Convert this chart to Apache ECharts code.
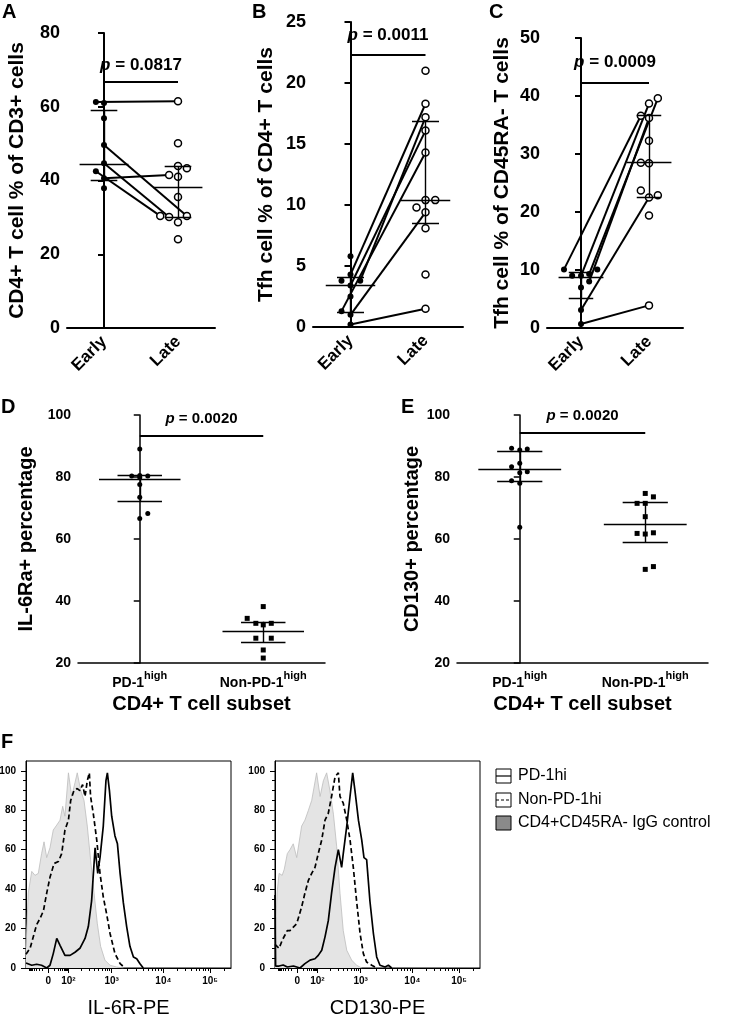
<!DOCTYPE html>
<html><head><meta charset="utf-8">
<script src="https://cdn.jsdelivr.net/npm/echarts@6/dist/echarts.min.js"></script>
<style>html,body{margin:0;padding:0;background:#fff}#c{width:750px;height:1017px}</style>
</head><body><div id="c"></div>
<script>
// ---------------- DATA ----------------
const timeCats = ['Early', 'Late'];
const subsetCats = ['PD-1', 'Non-PD-1'];
const subsetSup = 'high';

// Panel A : CD4+ T cell % of CD3+ cells
const A_title = 'CD4+ T cell % of CD3+ cells';
const A_yAxis = [0, 80, 20];
const A_early = [61.3, 61.0, 56.9, 49.6, 44.7, 42.5, 40.6, 37.9];
const A_earlyJit = [-0.11, 0, 0, 0, 0, -0.11, 0, 0];
const A_late = [61.5, 50.1, 43.9, 43.3, 41.0, 41.5, 35.5, 30.4, 30.1, 30.4, 28.7, 24.1];
const A_lateJit = [0, 0, 0, 0.12, 0, -0.12, 0, -0.24, -0.12, 0.12, 0, 0];
const A_pairs = [[0, 0], [3, 9], [4, 8], [5, 7], [6, 5]];
const A_earlyStats = [40.0, 44.5, 59.0];
const A_lateStats = [30.1, 38.3, 43.9];
const A_pBar = 66.7;
const A_pValue = '0.0817';

// Panel B : Tfh cell % of CD4+ T cells
const B_title = 'Tfh cell % of CD4+ T cells';
const B_yAxis = [0, 25, 5];
const B_early = [5.8, 4.3, 3.8, 3.8, 3.4, 2.5, 1.3, 1.0, 0.2];
const B_earlyJit = [0, 0, -0.12, 0.13, 0, 0, -0.12, 0, 0];
const B_late = [21.0, 18.3, 17.2, 16.1, 14.3, 9.8, 10.4, 10.4, 9.4, 8.1, 4.3, 1.5];
const B_lateJit = [0, 0, 0, 0, 0, -0.12, 0, 0.13, 0, 0, 0, 0];
const B_pairs = [[1, 1], [3, 2], [4, 3], [6, 4], [7, 8], [8, 11]];
const B_earlyStats = [1.2, 3.4, 4.1];
const B_lateStats = [8.5, 10.4, 16.9];
const B_pBar = 22.3;
const B_pValue = '0.0011';

// Panel C : Tfh cell % of CD45RA- T cells
const C_title = 'Tfh cell % of CD45RA- T cells';
const C_yAxis = [0, 50, 10];
const C_early = [10.1, 10.1, 9.0, 9.0, 9.3, 8.0, 7.0, 3.1, 0.7];
const C_earlyJit = [-0.25, 0.24, -0.13, 0, 0.12, 0.12, 0, 0, 0];
const C_late = [39.6, 38.7, 36.6, 36.2, 32.3, 28.5, 28.4, 23.7, 22.9, 22.5, 19.4, 3.9];
const C_lateJit = [0.13, 0, -0.12, 0, 0, -0.12, 0, -0.12, 0.13, 0, 0, 0];
const C_pairs = [[0, 2], [3, 1], [4, 0], [5, 3], [7, 9], [8, 11]];
const C_earlyStats = [5.2, 8.8, 9.6];
const C_lateStats = [22.6, 28.5, 36.6];
const C_pBar = 42.3;
const C_pValue = '0.0009';

// Panel D : IL-6Ra+ percentage
const D_title = 'IL-6Ra+ percentage';
const D_yAxis = [20, 100, 20];
const D_pd = [89.0, 80.3, 80.5, 80.3, 79.8, 77.6, 73.5, 68.2, 66.6];
const D_pdJit = [0, -0.065, 0, 0.065, 0, 0, 0, 0.065, 0];
const D_non = [38.2, 34.4, 32.8, 32.3, 32.8, 28.0, 28.0, 24.2, 21.6];
const D_nonJit = [0, -0.13, -0.06, 0, 0.065, -0.06, 0.065, 0, 0];
const D_pdStats = [72.2, 79.3, 80.6];
const D_nonStats = [26.8, 30.1, 33.3];
const D_pBar = 93.2;
const D_pValue = '0.0020';

// Panel E : CD130+ percentage
const E_title = 'CD130+ percentage';
const E_yAxis = [20, 100, 20];
const E_pd = [89.3, 88.7, 89.0, 84.4, 83.3, 81.7, 81.4, 78.8, 78.0, 63.8];
const E_pdJit = [-0.065, 0, 0.06, 0, -0.065, 0.06, 0, -0.065, 0, 0];
const E_non = [74.7, 73.6, 71.5, 71.5, 67.2, 61.8, 61.6, 62.0, 50.2, 51.1];
const E_nonJit = [0, 0.065, -0.065, 0, 0, -0.065, 0, 0.065, 0, 0.065];
const E_pdStats = [78.5, 82.4, 88.4];
const E_nonStats = [58.9, 64.6, 72.0];
const E_pBar = 94.4;
const E_pValue = '0.0020';
const subsetTitle = 'CD4+ T cell subset';

// Panel F : histograms (x in display channels 0-1000, y = % of max)
const F_xTickPos = [109, 207, 418, 670, 898];
const F_xTickLabels = ['0', '10²', '10³', '10⁴', '10⁵'];
const F_yTicks = [0, 20, 40, 60, 80, 100];
const F_names = ['PD-1hi', 'Non-PD-1hi', 'CD4+CD45RA- IgG control'];

const F1_title = 'IL-6R-PE';
const F1_greyX = [0, 11, 28, 44, 60, 76, 88, 101, 117, 133, 150, 166, 179, 190, 207, 223, 239, 250, 267, 283, 299, 315, 332, 348, 364, 385, 410, 442, 475];
const F1_greyY = [10, 38, 49, 47, 48, 58, 64, 56, 61, 70, 72.5, 75, 82, 77, 99, 87, 94, 99, 90, 85, 72, 55, 38, 22.5, 11, 4, 1.4, 0.5, 0];
const F1_dashX = [0, 20, 36, 52, 68, 85, 101, 117, 137, 158, 174, 190, 207, 218, 234, 250, 263, 276, 288, 299, 309, 315, 328, 345, 361, 377, 393, 410, 434, 459, 483];
const F1_dashY = [7, 10, 16, 22, 25, 29, 38, 46, 53, 54, 58, 70, 75, 85, 90, 91, 90, 93, 87, 95, 99, 87, 78.5, 65, 48, 36, 27.6, 17.5, 7.3, 2.2, 0];
const F1_solidX = [0, 28, 52, 76, 101, 117, 133, 150, 166, 190, 215, 239, 263, 288, 304, 320, 337, 350, 361, 377, 390, 397, 407, 418, 434, 446, 459, 475, 491, 507, 524, 540, 556, 572];
const F1_solidY = [2.5, 1.4, 1.9, 1.4, 0, 1.4, 7.3, 15, 11.5, 6.4, 6.4, 8, 10, 15, 21, 34, 61, 48, 56, 72, 95, 99, 90, 77, 67, 63, 48, 33, 21, 11, 5.6, 4.7, 2.2, 0];

const F2_title = 'CD130-PE';
const F2_greyX = [0, 10, 20, 35, 45, 60, 73, 89, 106, 130, 146, 163, 179, 203, 220, 236, 252, 268, 285, 301, 317, 333, 350, 374, 398, 423];
const F2_greyY = [12, 38, 48, 47, 50, 58, 60, 63, 56, 72, 75, 80, 85, 99, 87, 95, 99, 90, 78, 61.5, 38, 19, 9, 4, 1.4, 0];
const F2_dashX = [0, 10, 20, 35, 50, 60, 73, 106, 130, 146, 163, 179, 195, 211, 228, 244, 260, 276, 293, 309, 317, 333, 350, 366, 382, 398, 415, 431, 447, 472, 496];
const F2_dashY = [12, 11, 10, 14, 17, 19, 19, 22.5, 31, 38, 44.5, 48, 51, 58, 65, 75, 78.5, 87, 97, 99, 87, 83.6, 75, 65, 51, 34, 17.5, 7.3, 3, 1.4, 0];
const F2_solidX = [0, 3, 20, 40, 60, 90, 122, 146, 171, 195, 211, 228, 244, 260, 276, 293, 309, 325, 333, 350, 366, 379, 390, 407, 423, 434, 447, 463, 480, 496, 512, 537, 553, 569];
const F2_solidY = [37, 1, 1, 1.5, 0.5, 1, 0, 2.2, 4, 4.7, 6.4, 9, 15.8, 24, 38, 51, 60, 51, 58, 72, 87, 99, 90, 75, 65, 56, 55, 34, 17.5, 5.6, 1.4, 0.5, 1.4, 0];

// ---------------- BUILD ----------------
const FONT = "'Liberation Sans', Arial, Helvetica, sans-serif";
const chart = echarts.init(document.getElementById('c'), null, {renderer: 'canvas'});

const grids = [
  {left: 67, top: 33, width: 148, height: 295},
  {left: 313, top: 22, width: 150, height: 305},
  {left: 547, top: 38, width: 136, height: 290},
  {left: 78, top: 415, width: 247, height: 248},
  {left: 457, top: 415, width: 251, height: 248},
  {left: 26, top: 761, width: 205, height: 207, show: true, borderColor: '#000', borderWidth: 1},
  {left: 275, top: 761, width: 205, height: 207, show: true, borderColor: '#000', borderWidth: 1}
].map(g => Object.assign({containLabel: false, outerBoundsMode: 'none'}, g));

const panels = [
  {cats: timeCats, y: A_yAxis, title: A_title, g1: A_early, j1: A_earlyJit, g2: A_late, j2: A_lateJit, pairs: A_pairs, s1: A_earlyStats, s2: A_lateStats, pBar: A_pBar, pVal: A_pValue, kind: 'time', nameGap: 39},
  {cats: timeCats, y: B_yAxis, title: B_title, g1: B_early, j1: B_earlyJit, g2: B_late, j2: B_lateJit, pairs: B_pairs, s1: B_earlyStats, s2: B_lateStats, pBar: B_pBar, pVal: B_pValue, kind: 'time', nameGap: 36},
  {cats: timeCats, y: C_yAxis, title: C_title, g1: C_early, j1: C_earlyJit, g2: C_late, j2: C_lateJit, pairs: C_pairs, s1: C_earlyStats, s2: C_lateStats, pBar: C_pBar, pVal: C_pValue, kind: 'time', nameGap: 34},
  {cats: subsetCats, y: D_yAxis, title: D_title, g1: D_pd, j1: D_pdJit, g2: D_non, j2: D_nonJit, pairs: null, s1: D_pdStats, s2: D_nonStats, pBar: D_pBar, pVal: D_pValue, kind: 'subset', nameGap: 42, xName: subsetTitle},
  {cats: subsetCats, y: E_yAxis, title: E_title, g1: E_pd, j1: E_pdJit, g2: E_non, j2: E_nonJit, pairs: null, s1: E_pdStats, s2: E_nonStats, pBar: E_pBar, pVal: E_pValue, kind: 'subset', nameGap: 34, xName: subsetTitle}
];

const xAxes = [], yAxes = [], series = [];

function pts(vals, jit, cat) { return vals.map((v, i) => [cat + (jit[i] || 0), v]); }
function statSegs(st, cat, mh, ch) {
  const [q1, med, q3] = st;
  return [
    {coords: [[cat - mh, med], [cat + mh, med]]},
    {coords: [[cat - ch, q1], [cat + ch, q1]]},
    {coords: [[cat - ch, q3], [cat + ch, q3]]},
    {coords: [[cat, q1], [cat, q3]]}
  ];
}

panels.forEach((p, gi) => {
  const time = p.kind === 'time';
  const lw = time ? 2 : 1.5;
  xAxes.push({
    type: 'category', gridIndex: gi, data: p.cats, boundaryGap: true,
    axisLine: {lineStyle: {color: '#000', width: lw}},
    axisTick: {alignWithLabel: true, length: 6, lineStyle: {color: '#000', width: lw}},
    axisLabel: time ? {interval: 0, rotate: 45, fontSize: 17, fontWeight: 'bold', color: '#000', fontFamily: FONT, margin: 11}
      : {interval: 0, hideOverlap: false, color: '#000', margin: 7, fontFamily: FONT,
         formatter: v => '{b|' + v + '}{s|' + subsetSup + '}',
         rich: {b: {fontSize: 14, fontWeight: 'bold', fontFamily: FONT, color: '#000', lineHeight: 20, verticalAlign: 'bottom'},
                s: {fontSize: 11, fontWeight: 'bold', fontFamily: FONT, color: '#000', lineHeight: 12, verticalAlign: 'top'}}},
    splitLine: {show: false},
    name: p.xName || '', nameLocation: 'middle', nameGap: 31,
    nameTextStyle: {fontSize: 20, fontWeight: 'bold', color: '#000', fontFamily: FONT}
  });
  const vx = xAxes.length;
  xAxes.push({type: 'value', gridIndex: gi, min: -0.5, max: 1.5, show: false});
  const yi = yAxes.length;
  yAxes.push({
    type: 'value', gridIndex: gi, min: p.y[0], max: p.y[1], interval: p.y[2],
    axisLine: {show: true, lineStyle: {color: '#000', width: lw}},
    axisTick: {show: true, length: 6, lineStyle: {color: '#000', width: lw}},
    axisLabel: {fontSize: time ? 18 : 14, fontWeight: 'bold', color: '#000', fontFamily: FONT, margin: 7},
    splitLine: {show: false},
    name: p.title, nameLocation: 'middle', nameGap: p.nameGap,
    nameTextStyle: {fontSize: time ? 21 : 20, fontWeight: 'bold', color: '#000', fontFamily: FONT}
  });
  const e = pts(p.g1, p.j1, 0), l = pts(p.g2, p.j2, 1);
  const base = {xAxisIndex: vx, yAxisIndex: yi, silent: true};
  if (p.pairs) {
    series.push(Object.assign({type: 'lines', coordinateSystem: 'cartesian2d', z: 2, polyline: false,
      lineStyle: {color: '#000', width: 2, opacity: 1, curveness: 0},
      data: p.pairs.map(([a, b]) => ({coords: [e[a], l[b]]}))}, base));
  }
  series.push(Object.assign({type: 'scatter', z: 3, symbol: 'circle', symbolSize: time ? 6 : 5,
    itemStyle: {color: '#000', opacity: 1}, data: e}, base));
  series.push(Object.assign({type: 'scatter', z: 3, symbol: time ? 'circle' : 'rect', symbolSize: time ? 7 : 5,
    itemStyle: time ? {color: '#fff', borderColor: '#000', borderWidth: 1.5, opacity: 1} : {color: '#000', opacity: 1},
    data: l}, base));
  series.push(Object.assign({type: 'lines', coordinateSystem: 'cartesian2d', z: 4, polyline: false,
    lineStyle: {color: '#000', width: 1.4, opacity: 1, curveness: 0},
    data: statSegs(p.s1, 0, 0.33, 0.18).concat(statSegs(p.s2, 1, 0.33, 0.18))}, base));
  series.push(Object.assign({type: 'lines', coordinateSystem: 'cartesian2d', z: 4, polyline: false,
    lineStyle: {color: '#000', width: 2, opacity: 1, curveness: 0},
    data: [{coords: [[0, p.pBar], [1, p.pBar]]}]}, base));
  const fs = time ? 17 : 15;
  series.push(Object.assign({type: 'scatter', z: 5, symbolSize: 1, itemStyle: {color: 'rgba(255,255,255,0)', opacity: 1},
    data: [[0.5, p.pBar]],
    label: {show: true, position: 'top', distance: time ? (gi === 0 ? 8 : 11) : 9, color: '#000', opacity: 1,
      textBorderWidth: 0,
      formatter: () => '{i|p}{b| = ' + p.pVal + '}',
      rich: {i: {fontSize: fs, fontWeight: 'bold', fontStyle: 'italic', fontFamily: FONT, color: '#000'},
             b: {fontSize: fs, fontWeight: 'bold', fontFamily: FONT, color: '#000'}}}}, base));
});

// Histogram panels
function minorX() {
  const P = F_xTickPos, out = [];
  for (let k = 2; k <= 9; k++) {
    const f = Math.log10(k);
    out.push(P[0] - f * (P[1] - P[0]));
    out.push(P[0] + f * (P[1] - P[0]));
    for (let i = 1; i < P.length - 1; i++) out.push(P[i] + f * (P[i + 1] - P[i]));
    const t = P[4] + f * (P[4] - P[3]);
    if (t < 1000) out.push(t);
  }
  return out.filter(v => v > 0 && v < 1000);
}
const minorY = [];
for (let v = 5; v < 105; v += 5) if (v % 20 !== 0) minorY.push(v);

const histDefs = [
  {gi: 5, title: F1_title, grey: [F1_greyX, F1_greyY], dash: [F1_dashX, F1_dashY], solid: [F1_solidX, F1_solidY]},
  {gi: 6, title: F2_title, grey: [F2_greyX, F2_greyY], dash: [F2_dashX, F2_dashY], solid: [F2_solidX, F2_solidY]}
];
const zip = (a) => a[0].map((x, i) => [x, a[1][i]]);
histDefs.forEach(h => {
  const xi = xAxes.length;
  xAxes.push({type: 'value', gridIndex: h.gi, min: 0, max: 1000, position: 'bottom',
    axisLine: {show: true, lineStyle: {color: '#000', width: 1}},
    axisTick: {show: true, length: 5, customValues: F_xTickPos, lineStyle: {color: '#000', width: 1}},
    axisLabel: {customValues: F_xTickPos, fontSize: 10, fontWeight: 'bold', color: '#000', fontFamily: FONT, margin: 8,
      formatter: v => { const i = F_xTickPos.indexOf(v); return i >= 0 ? F_xTickLabels[i] : ''; }},
    splitLine: {show: false},
    name: h.title, nameLocation: 'middle', nameGap: 30,
    nameTextStyle: {fontSize: 20, color: '#000', fontFamily: FONT}});
  xAxes.push({type: 'value', gridIndex: h.gi, min: 0, max: 1000, position: 'bottom',
    axisLine: {show: false}, axisLabel: {show: false}, splitLine: {show: false},
    axisTick: {show: true, length: 3, customValues: minorX(), lineStyle: {color: '#000', width: 1}}});
  const yi = yAxes.length;
  yAxes.push({type: 'value', gridIndex: h.gi, min: 0, max: 105, position: 'left',
    axisLine: {show: true, lineStyle: {color: '#000', width: 1}},
    axisTick: {show: true, length: 5, customValues: F_yTicks, lineStyle: {color: '#000', width: 1}},
    axisLabel: {customValues: F_yTicks, fontSize: 10, fontWeight: 'bold', color: '#000', fontFamily: FONT, margin: 10},
    splitLine: {show: false}});
  yAxes.push({type: 'value', gridIndex: h.gi, min: 0, max: 105, position: 'left',
    axisLine: {show: false}, axisLabel: {show: false}, splitLine: {show: false},
    axisTick: {show: true, length: 3, customValues: minorY, lineStyle: {color: '#000', width: 1}}});
  const b = {xAxisIndex: xi, yAxisIndex: yi, silent: true, type: 'line', symbol: 'none', showSymbol: false, smooth: false};
  series.push(Object.assign({}, b, {name: F_names[2], z: 2, data: zip(h.grey),
    lineStyle: {color: '#bdbdbd', width: 0.8}, areaStyle: {color: '#e4e4e4', opacity: 1}}));
  series.push(Object.assign({}, b, {name: F_names[1], z: 3, data: zip(h.dash),
    lineStyle: {color: '#000', width: 1.7, type: [5, 3]}}));
  series.push(Object.assign({}, b, {name: F_names[0], z: 4, data: zip(h.solid),
    lineStyle: {color: '#000', width: 1.7}}));
});

// panel letters and legend
const letter = (t, x, y) => ({type: 'text', left: x, top: y, style: {text: t, font: 'bold 20px ' + FONT, fill: '#000'}});
const legendRows = [776, 800, 823];
const legendItems = [];
F_names.forEach((n, i) => {
  const yc = legendRows[i];
  legendItems.push({type: 'rect', shape: {x: 496, y: yc - 7, width: 15, height: 14},
    style: {fill: i === 2 ? '#8a8a8a' : '#fff', stroke: '#000', lineWidth: 1}});
  if (i < 2) legendItems.push({type: 'line', shape: {x1: 496, y1: yc, x2: 511, y2: yc},
    style: {stroke: '#000', lineWidth: 1.2, lineDash: i === 1 ? [3, 2] : null}});
  legendItems.push({type: 'text', x: 518, y: yc, style: {text: n, font: '16px ' + FONT, fill: '#000', textVerticalAlign: 'middle'}});
});

chart.setOption({
  animation: false,
  backgroundColor: '#fff',
  textStyle: {fontFamily: FONT},
  grid: grids, xAxis: xAxes, yAxis: yAxes, series: series,
  graphic: [letter('A', 2, 2), letter('B', 252, 2), letter('C', 489, 2), letter('D', 1, 397), letter('E', 401, 397), letter('F', 1, 732)].concat(legendItems)
});
</script></body></html>
